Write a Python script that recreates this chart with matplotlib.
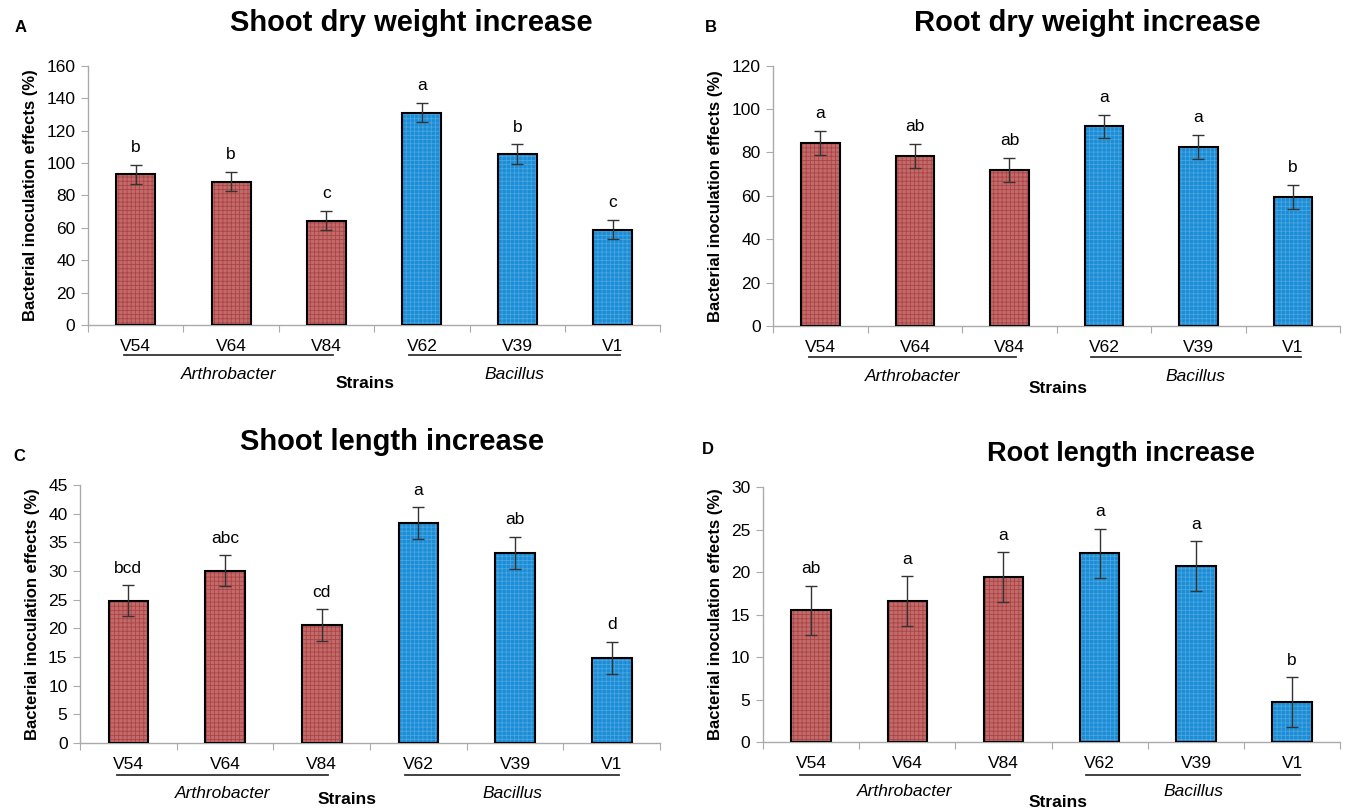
import matplotlib
matplotlib.use("Agg")
import matplotlib.pyplot as plt
import matplotlib.transforms as mtransforms

plt.rcParams['font.family'] = ['Liberation Sans', 'DejaVu Sans']
plt.rcParams['hatch.linewidth'] = 0.6

strains = ["V54", "V64", "V84", "V62", "V39", "V1"]
genus = ["Arthrobacter", "Arthrobacter", "Arthrobacter", "Bacillus", "Bacillus", "Bacillus"]

titles = ["Shoot dry weight increase", "Root dry weight increase",
          "Shoot length increase", "Root length increase"]
panel_letters = ["A", "B", "C", "D"]

shoot_dw = [93, 88.5, 64.5, 131, 105.5, 59]
shoot_dw_err = [6, 6, 6, 6, 6, 6]
shoot_dw_sig = ["b", "b", "c", "a", "b", "c"]

root_dw = [84.5, 78.5, 72, 92, 82.5, 59.5]
root_dw_err = [5.5, 5.5, 5.5, 5.5, 5.5, 5.5]
root_dw_sig = ["a", "ab", "ab", "a", "a", "b"]

shoot_len = [24.8, 30, 20.5, 38.3, 33.1, 14.8]
shoot_len_err = [2.7, 2.7, 2.8, 2.8, 2.8, 2.8]
shoot_len_sig = ["bcd", "abc", "cd", "a", "ab", "d"]

root_len = [15.5, 16.6, 19.4, 22.2, 20.7, 4.7]
root_len_err = [2.9, 2.9, 2.9, 2.9, 2.9, 2.9]
root_len_sig = ["ab", "a", "a", "a", "a", "b"]

y_max = [160, 120, 45, 30]
y_step = [20, 20, 5, 5]

values = [shoot_dw, root_dw, shoot_len, root_len]
errors = [shoot_dw_err, root_dw_err, shoot_len_err, root_len_err]
sigs = [shoot_dw_sig, root_dw_sig, shoot_len_sig, root_len_sig]

red_face, red_hatch = "#c56a6a", "#a84545"
blue_face, blue_hatch = "#1a8dd6", "#49a5e0"

fig = plt.figure(figsize=(13.47, 8.11), dpi=100)

# axes rects in figure fractions
rects = [
    [0.0653, 0.599, 0.425, 0.320],
    [0.574, 0.598, 0.421, 0.321],
    [0.0594, 0.084, 0.4306, 0.318],
    [0.5664, 0.085, 0.4286, 0.3145],
]
title_pos = [(0.305, 0.972), (0.807, 0.972), (0.291, 0.455), (0.832, 0.44)]
title_size = [21, 21, 21, 19.5]
letter_pos = [(0.011, 0.966), (0.523, 0.966), (0.010, 0.437), (0.521, 0.446)]
strains_pos = [0.484, 0.503, 0.46, 0.511]
lab_y = [(-0.116, -0.19, -0.225), (-0.12, -0.192, -0.24),
         (-0.124, -0.195, -0.22), (-0.13, -0.195, -0.235)]

x = list(range(len(strains)))
for i in range(4):
    ax = fig.add_axes(rects[i])
    faces = [red_face if g == "Arthrobacter" else blue_face for g in genus]
    hatches = [red_hatch if g == "Arthrobacter" else blue_hatch for g in genus]
    for xi, v, fc, hc in zip(x, values[i], faces, hatches):
        ax.bar(xi, v, width=0.41, color=fc, edgecolor=hc, hatch="++++",
               linewidth=0, zorder=2)
    ax.bar(x, values[i], width=0.41, fill=False, edgecolor="black",
           linewidth=1.5, zorder=3)
    ax.errorbar(x, values[i], yerr=errors[i], fmt="none", ecolor="#333333",
                elinewidth=1, capsize=4.5, capthick=1, zorder=4)
    for xi, v, e, s in zip(x, values[i], errors[i], sigs[i]):
        ax.annotate(s, (xi, v + e), xytext=(0, 7), textcoords="offset points",
                    ha="center", va="bottom", fontsize=12.5)

    ax.set_xlim(-0.5, 5.5)
    ax.set_ylim(0, y_max[i])
    ax.set_yticks(range(0, y_max[i] + 1, y_step[i]))
    ax.set_xticks([k - 0.5 for k in range(7)], minor=False)
    ax.set_xticklabels([])
    ax.set_xticks(x, minor=True)
    ax.set_xticklabels(strains, minor=True)
    ax.tick_params(axis="x", which="major", length=5, color="#aaaaaa", direction="out")
    ax.tick_params(axis="x", which="minor", length=0, pad=10, labelsize=12.5)
    ax.tick_params(axis="y", length=5, color="#aaaaaa", labelsize=12.5, pad=4)
    for sp in ["top", "right"]:
        ax.spines[sp].set_visible(False)
    for sp in ["left", "bottom"]:
        ax.spines[sp].set_color("#aaaaaa")
        ax.spines[sp].set_linewidth(1)
    ax.set_ylabel("Bacterial inoculation effects (%)", fontsize=12, fontweight="bold",
                  labelpad=6)

    trans = mtransforms.blended_transform_factory(ax.transData, ax.transAxes)
    ly, gy, sy = lab_y[i]
    for (x0, x1, name) in [(-0.12, 2.07, "Arthrobacter"), (2.86, 5.08, "Bacillus")]:
        ax.plot([x0, x1], [ly, ly], color="#333333", lw=1.3, transform=trans,
                clip_on=False)
        ax.text((x0 + x1) / 2, gy, name, transform=trans, ha="center", va="center",
                fontsize=12.5, style="italic")
    ax.text(strains_pos[i], sy, "Strains", transform=ax.transAxes, ha="center",
            va="center", fontsize=12.5, fontweight="bold")

    fig.text(title_pos[i][0], title_pos[i][1], titles[i], ha="center", va="center",
             fontsize=title_size[i], fontweight="bold")
    fig.text(letter_pos[i][0], letter_pos[i][1], panel_letters[i], ha="left",
             va="center", fontsize=12, fontweight="bold")

fig.savefig("out.png", dpi=100)
